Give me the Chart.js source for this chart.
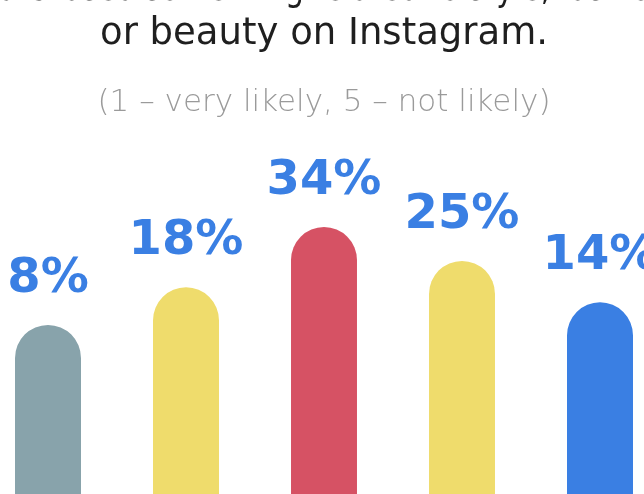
<!DOCTYPE html>
<html>
<head>
<meta charset="utf-8">
<script src="https://cdn.jsdelivr.net/npm/chart.js@4.4.1/dist/chart.umd.min.js"></script>
<style>
  html, body { margin: 0; padding: 0; background: #ffffff; overflow: hidden; width: 644px; height: 494px; }
  #wrap { position: absolute; left: -21px; top: -40px; width: 690px; height: 540px; }
</style>
</head>
<body>
<div id="wrap"><canvas id="c"></canvas></div>
<script>
// ---- data ----
const categories = ['1', '2', '3', '4', '5'];
const shares = [8, 18, 34, 25, 14];
const barColors = ['#88A3AB', '#EFDC6C', '#D65264', '#EFDC6C', '#3A7FE3'];
const titleLines = ['purchased something related to style, fashion', 'or beauty on Instagram.'];
const subtitleText = '(1 \u2013 very likely, 5 \u2013 not likely)';

const labelPlugin = {
  id: 'pctLabels',
  afterDatasetsDraw(chart) {
    const ctx = chart.ctx;
    const meta = chart.getDatasetMeta(0);
    ctx.save();
    ctx.font = 'bold 48px "DejaVu Sans"';
    ctx.fillStyle = '#3A7FE3';
    ctx.textAlign = 'center';
    ctx.textBaseline = 'alphabetic';
    meta.data.forEach((el, i) => {
      ctx.fillText(shares[i] + '%', el.x, el.y - 33);
    });
    ctx.restore();
  }
};

new Chart(document.getElementById('c'), {
  type: 'bar',
  data: {
    labels: categories,
    datasets: [{
      data: shares,
      backgroundColor: barColors,
      base: -38.5,
      borderRadius: { topLeft: 33, topRight: 33, bottomLeft: 0, bottomRight: 0 },
      borderSkipped: 'bottom',
      categoryPercentage: 1,
      barPercentage: 0.478
    }]
  },
  options: {
    responsive: true,
    maintainAspectRatio: false,
    animation: false,
    layout: { padding: 0 },
    plugins: {
      legend: { display: false },
      tooltip: { enabled: false },
      title: {
        display: true,
        text: titleLines,
        color: '#1f1f1f',
        font: { family: '"DejaVu Sans"', size: 37, weight: 'normal', lineHeight: 1.19 },
        padding: { top: 8, bottom: 0 }
      },
      subtitle: {
        display: true,
        text: subtitleText,
        color: '#9a9a9a',
        font: { family: '"DejaVu Sans"', size: 31, weight: 300, lineHeight: 1.2 },
        padding: { top: 28.6, bottom: 18.6 }
      }
    },
    scales: {
      x: { display: false },
      y: { display: false, min: -38.5, max: 57 }
    }
  },
  plugins: [labelPlugin]
});
</script>
</body>
</html>
